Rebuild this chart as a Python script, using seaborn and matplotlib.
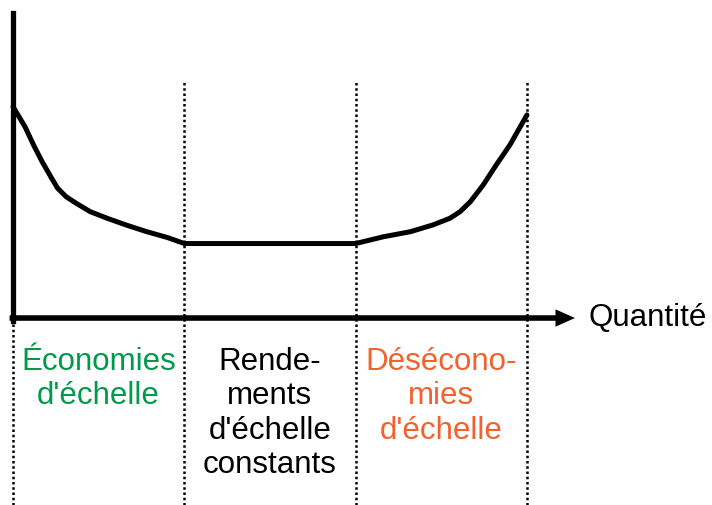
import numpy as np
import pandas as pd
import seaborn as sns
import matplotlib.pyplot as plt

# courbe du coût moyen (quantité en unités de zone, coût en unités arbitraires)
quantite = [0.0, 0.07, 0.12, 0.17, 0.22, 0.26, 0.31, 0.37, 0.45, 0.55, 0.66, 0.78, 0.90, 1.0,
            2.0, 2.16, 2.32, 2.45, 2.55, 2.61, 2.67, 2.745, 2.82, 2.90, 3.0]
cout = [6.95, 6.29, 5.69, 5.14, 4.65, 4.27, 3.99, 3.77, 3.50, 3.28, 3.06, 2.84, 2.65, 2.45,
        2.45, 2.67, 2.84, 3.06, 3.28, 3.50, 3.83, 4.38, 5.03, 5.69, 6.68]

bornes = [0, 1, 2, 3]
zones = ["Économies\nd'échelle", "Rende-\nments\nd'échelle\nconstants", "Désécono-\nmies\nd'échelle"]
couleurs = ['#009A4B', '#000000', '#F4612E']
axe_x = 'Quantité'

df = pd.DataFrame({'quantite': quantite, 'cout': cout})

sns.set_style('white')
plt.rcParams['font.family'] = ['Liberation Sans', 'DejaVu Sans']
plt.rcParams['text.color'] = 'black'

fig = plt.figure(figsize=(7.12, 5.05), dpi=100)
ax = fig.add_axes([0, 0, 1, 1])

# échelle : 171.3 px par zone, 30.4 px par unité de coût
ax.set_xlim(-0.076, 4.08)
ax.set_ylim(-6.15, 10.46)

sns.lineplot(data=df, x='quantite', y='cout', ax=ax, color='black', lw=3.6, sort=False)

# lignes pointillées de séparation
ax.vlines(bornes[1:], -6.15, 7.83, colors='black', lw=1.8, linestyles=(0, (1, 1.1)))
ax.vlines(bornes[0], -6.15, 0, colors='black', lw=1.8, linestyles=(0, (1, 1.1)))

# axes
for s in ['top', 'right', 'bottom']:
    ax.spines[s].set_visible(False)
ax.spines['left'].set_position(('data', 0))
ax.spines['left'].set_bounds(-0.09, 10.03)
ax.spines['left'].set_linewidth(3.8)
ax.spines['left'].set_color('black')
ax.set_xticks([])
ax.set_yticks([])
ax.set_xlabel('')
ax.set_ylabel('')

ax.annotate('', xy=(3.28, 0), xytext=(-0.02, 0),
            arrowprops=dict(width=4, headwidth=12.5, headlength=14, facecolor='black',
                            edgecolor='none', shrink=0))
ax.text(3.36, 0, axe_x, fontsize=22.5, va='center', ha='left', color='black')

for i, (label, c) in enumerate(zip(zones, couleurs)):
    ax.text((bornes[i] + bornes[i + 1]) / 2, -0.95, label, color=c, fontsize=22.5,
            ha='center', va='top', linespacing=1.19)

plt.savefig('out.png', dpi=100)
